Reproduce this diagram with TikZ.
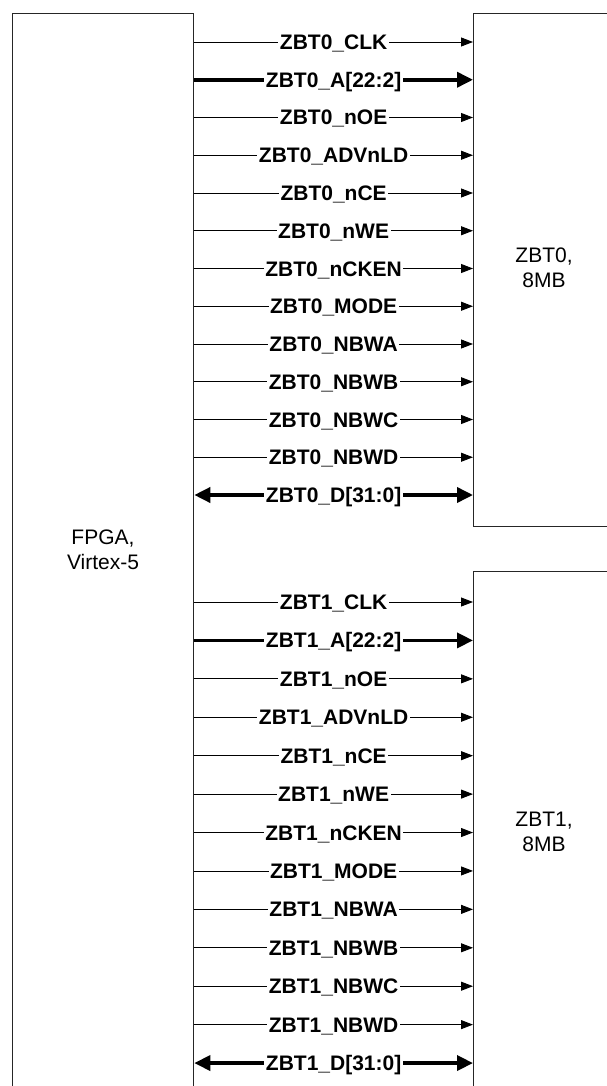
\documentclass[tikz,border=0pt]{standalone}
\usepackage{fontspec}
\setmainfont{Liberation Sans}
\usetikzlibrary{arrows.meta,calc}
\begin{document}
\begin{tikzpicture}[x=1pt,y=-1pt,
  boxline/.style={draw=black!85,line width=1.3pt},
  sig/.style={line width=0.9pt,-{Triangle[length=12pt,width=9pt]}},
  bus/.style={line width=3.6pt,-{Triangle[length=16pt,width=15pt]}},
  bibus/.style={line width=3.6pt,{Triangle[length=16pt,width=15pt]}-{Triangle[length=16pt,width=15pt]}},
  lbl/.style={fill=white,inner xsep=1.5pt,inner ysep=0pt,text height=15pt,text depth=0pt,font=\fontsize{21}{25}\selectfont\bfseries},
  boxtext/.style={align=center,font=\fontsize{21}{25}\selectfont}]
\useasboundingbox (0,0) rectangle (607,1086);
\fill[white] (0,0) rectangle (607,1086);
\clip (0,0) rectangle (607,1086);
% boxes
\node[boxline,minimum width=181pt,minimum height=1100pt,inner sep=0pt,anchor=north west] (fpga) at (12,13) {};
\node[boxline,minimum width=160pt,minimum height=513pt,inner sep=0pt,anchor=north west] (zbt0) at (473,13) {};
\node[boxline,minimum width=160pt,minimum height=540pt,inner sep=0pt,anchor=north west] (zbt1) at (473,571) {};
\node[boxtext] (fpgat) at (103,550) {FPGA,\\Virtex-5};
\node[boxtext] (zbt0t) at (544,268) {ZBT0,\\8MB};
\node[boxtext] (zbt1t) at (544,832) {ZBT1,\\8MB};
% signals
\foreach \k/\y in {0/42,1/602}{
  \pgfmathsetmacro{\dy}{\k==0 ? 37.75 : 38.42}
  \foreach \i/\name/\st in {0/CLK/sig,1/A[22:2]/bus,2/nOE/sig,3/ADVnLD/sig,4/nCE/sig,5/nWE/sig,6/nCKEN/sig,7/MODE/sig,8/NBWA/sig,9/NBWB/sig,10/NBWC/sig,11/NBWD/sig,12/D[31:0]/bibus}{
    \coordinate (r\k-\i) at (0,{\y+\i*\dy});
    \draw[\st] (fpga.east |- r\k-\i) -- node[lbl] (l\k-\i) {ZBT\k\_\name} (zbt\k.west |- r\k-\i);
  }
}
\end{tikzpicture}
\end{document}
